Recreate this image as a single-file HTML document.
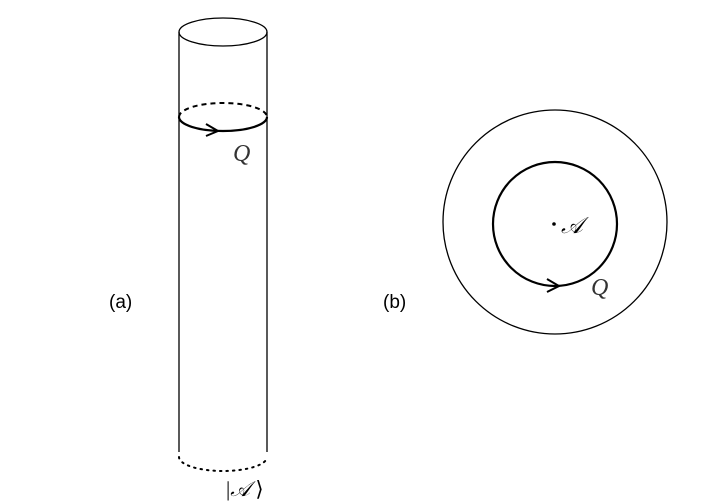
<!DOCTYPE html>
<html><head><meta charset="utf-8"><style>
html,body{margin:0;padding:0;background:#fff;}
svg{display:block;}
.sans{font-family:"Liberation Sans",sans-serif;}
.serif{font-family:"Liberation Serif","DejaVu Serif",serif;}
</style></head><body>
<svg width="714" height="503" viewBox="0 0 714 503" xmlns="http://www.w3.org/2000/svg">
<g fill="none" stroke="#000">
  <ellipse cx="223" cy="32" rx="44" ry="14" stroke-width="1.3"/>
  <line x1="179" y1="32" x2="179" y2="452" stroke-width="1.3"/>
  <line x1="267" y1="32" x2="267" y2="452" stroke-width="1.3"/>
  <path d="M179,117 A44,14 0 0 1 267,117" stroke-width="2" stroke-dasharray="5,4"/>
  <path d="M179,117 A44,14 0 0 0 267,117" stroke-width="2.2"/>
  <path d="M206,124 L218,131 L206,136" stroke-width="2"/>
  <path d="M179,457 A44,14 0 0 0 267,457" stroke-width="2" stroke-dasharray="1.5,5" stroke-linecap="round"/>
</g>
<text class="serif" x="233" y="161" font-style="italic" font-size="24" fill="#333">Q</text>
<text class="serif" x="226" y="496" font-size="21">|<tspan font-style="italic">𝒜</tspan> ⟩</text>
<text class="sans" x="109" y="308" font-size="19">(a)</text>
<text class="sans" x="383" y="308" font-size="19">(b)</text>
<g fill="none" stroke="#000">
  <circle cx="555" cy="222" r="112" stroke-width="1.3"/>
  <circle cx="555" cy="224" r="62" stroke-width="2.2"/>
  <path d="M547,279 L559,286 L547,292" stroke-width="2"/>
</g>
<circle cx="554" cy="224" r="1.8" fill="#000"/>
<text class="serif" x="561" y="233" font-style="italic" font-size="23">𝒜</text>
<text class="serif" x="591" y="295" font-style="italic" font-size="24" fill="#333">Q</text>
</svg>
</body></html>
